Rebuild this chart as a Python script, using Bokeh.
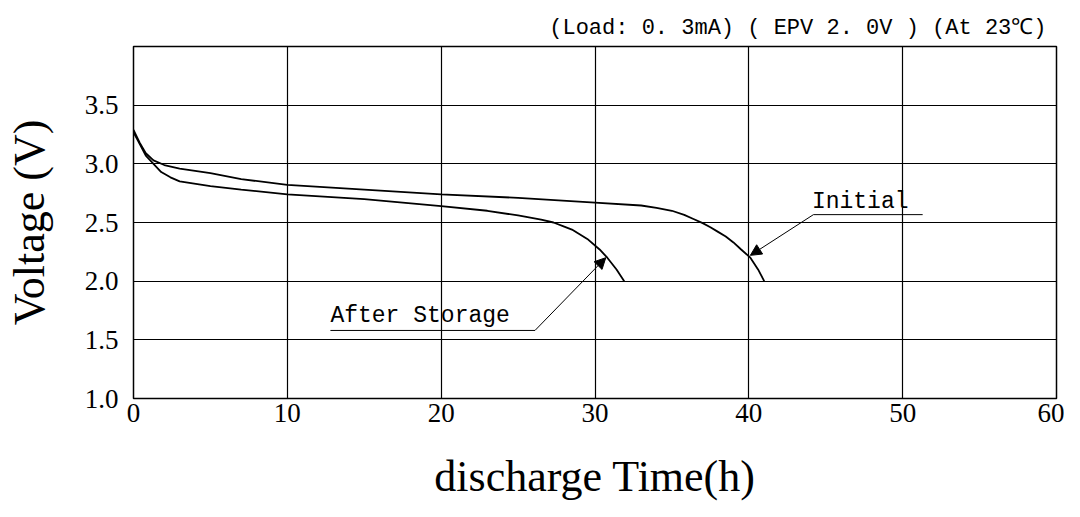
from bokeh.plotting import figure
from bokeh.models import Range1d, FixedTicker, Label, Arrow, NormalHead
from bokeh.embed import file_html
from bokeh.resources import INLINE

# ---- data ----
x_ticks = [0, 10, 20, 30, 40, 50, 60]
y_ticks = [1.0, 1.5, 2.0, 2.5, 3.0, 3.5]
y_tick_labels = ["1.0", "1.5", "2.0", "2.5", "3.0", "3.5"]

initial_h = [0, 0.4, 0.8, 1.3, 2.0, 3, 5, 7, 10, 15, 20, 25, 30, 33, 34, 35, 35.8, 36.4, 37.0, 37.5, 38.0, 38.5, 39.0, 39.5, 40.1, 40.6, 41.0]
initial_v = [3.29, 3.18, 3.09, 3.03, 2.99, 2.96, 2.92, 2.87, 2.82, 2.78, 2.74, 2.71, 2.67, 2.645, 2.625, 2.60, 2.565, 2.53, 2.495, 2.46, 2.42, 2.38, 2.33, 2.27, 2.20, 2.10, 2.00]

after_h = [0, 0.4, 0.8, 1.3, 1.8, 2.4, 3, 5, 7, 10, 15, 20, 23, 25, 26.5, 27.3, 28.0, 28.5, 29.0, 29.5, 30.3, 30.8, 31.4, 31.9]
after_v = [3.27, 3.17, 3.07, 3.00, 2.93, 2.885, 2.85, 2.81, 2.78, 2.74, 2.70, 2.64, 2.60, 2.56, 2.525, 2.50, 2.465, 2.44, 2.40, 2.36, 2.27, 2.20, 2.10, 2.00]

title_text = "(Load: 0. 3mA) ( EPV 2. 0V ) (At 23\u2103)"

# annotation anchors (label start, underline, leader start, arrow tip)
ann_after = {"text": "After Storage", "tx": 12.8, "ty": 1.70, "ux0": 12.8, "ux1": 26.1, "uy": 1.58, "lx": 26.1, "tipx": 30.7, "tipy": 2.20}
ann_init = {"text": "Initial", "tx": 44.1, "ty": 2.675, "ux0": 44.2, "ux1": 51.3, "uy": 2.567, "lx": 44.2, "tipx": 40.1, "tipy": 2.22}

p = figure(width=1064, height=509, x_range=Range1d(0, 60), y_range=Range1d(1, 4),
           output_backend="svg", toolbar_location=None,
           min_border_left=133, min_border_right=8, min_border_top=46, min_border_bottom=111)

p.title.text = title_text
p.title.align = "right"
p.title.vertical_align = "middle"
p.title.text_font = "Liberation Mono"
p.title.text_font_size = "22px"
p.title.text_font_style = "normal"
p.title.text_color = "black"
p.title.standoff = 10
p.title.offset = 10

p.outline_line_color = "black"
p.outline_line_width = 1.5
p.outline_line_alpha = 1.0

for g, ticks in ((p.xgrid, x_ticks), (p.ygrid, y_ticks)):
    g.ticker = FixedTicker(ticks=ticks)
    g.grid_line_color = "black"
    g.grid_line_width = 1.2
    g.grid_line_alpha = 1.0

p.xaxis.ticker = FixedTicker(ticks=x_ticks)
p.yaxis.ticker = FixedTicker(ticks=y_ticks)
p.yaxis.major_label_overrides = {t: l for t, l in zip(y_ticks, y_tick_labels)}

for ax in (p.xaxis, p.yaxis):
    ax.major_tick_out = 0
    ax.major_tick_in = 0
    ax.minor_tick_out = 0
    ax.minor_tick_in = 0
    ax.axis_line_color = "black"
    ax.major_label_text_font = "Liberation Serif"
    ax.major_label_text_font_size = "27px"
    ax.major_label_text_color = "black"
    ax.axis_label_text_font = "Liberation Serif"
    ax.axis_label_text_font_size = "44px"
    ax.axis_label_text_font_style = "normal"
    ax.axis_label_text_color = "black"

p.xaxis.axis_label = "discharge Time(h)"
p.yaxis.axis_label = "Voltage (V)"
p.xaxis.major_label_standoff = 5
p.yaxis.major_label_standoff = 15
p.xaxis.axis_label_standoff = 27
p.yaxis.axis_label_standoff = 28

p.line(initial_h, initial_v, line_color="black", line_width=1.8)
p.line(after_h, after_v, line_color="black", line_width=1.8)

for a in (ann_after, ann_init):
    p.add_layout(Label(x=a["tx"], y=a["ty"], text=a["text"], text_font="Liberation Mono",
                       text_font_size="23px", text_color="black", text_baseline="alphabetic"))
    p.line([a["ux0"], a["ux1"]], [a["uy"], a["uy"]], line_color="black", line_width=1)
    p.add_layout(Arrow(x_start=a["lx"], y_start=a["uy"], x_end=a["tipx"], y_end=a["tipy"],
                       line_color="black", line_width=1,
                       end=NormalHead(size=11, fill_color="black", line_color="black")))

open("out.html", "w").write(file_html(p, INLINE))
